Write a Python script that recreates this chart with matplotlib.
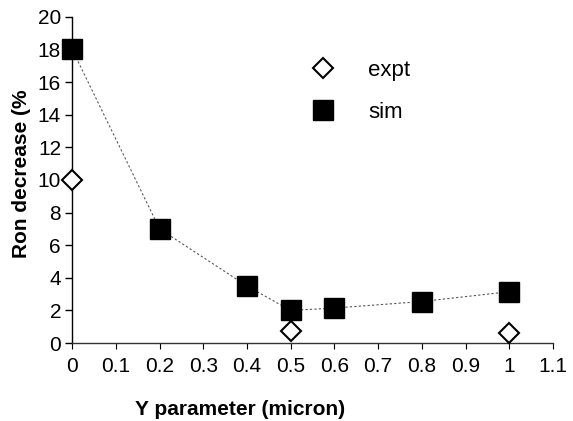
import numpy as np
import matplotlib.pyplot as plt

plt.rcParams.update({
    'font.family': ['Liberation Sans', 'DejaVu Sans'],
    'font.size': 12,
})

sim_x = [0, 0.2, 0.4, 0.5, 0.6, 0.8, 1.0]
sim_y = [18, 7, 3.5, 2.0, 2.15, 2.55, 3.15]
expt_x = [0, 0.5, 1.0]
expt_y = [10, 0.72, 0.65]
xticks = [0, 0.1, 0.2, 0.3, 0.4, 0.5, 0.6, 0.7, 0.8, 0.9, 1, 1.1]
xticklabels = ['0', '0.1', '0.2', '0.3', '0.4', '0.5', '0.6', '0.7', '0.8', '0.9', '1', '1.1']
yticks = [0, 2, 4, 6, 8, 10, 12, 14, 16, 18, 20]

fig = plt.figure(figsize=(5.73, 4.21), dpi=100)
ax = fig.add_axes([0.126, 0.185, 0.839, 0.775])

ax.plot(sim_x, sim_y, color='#555555', lw=0.8, ls=(0, (2, 2)), zorder=1, clip_on=False)
ax.plot(sim_x, sim_y, 's', ms=14, mfc='black', mec='black', ls='none', label='sim',
        zorder=3, clip_on=False)
ax.plot(expt_x, expt_y, 'D', ms=10, mfc='white', mec='black', mew=1.5, ls='none',
        label='expt', zorder=3, clip_on=False)

ax.set_xlim(0, 1.1)
ax.set_ylim(0, 20)
ax.set_xticks(xticks)
ax.set_xticklabels(xticklabels, fontsize=15)
ax.set_yticks(yticks)
ax.set_yticklabels([str(v) for v in yticks], fontsize=15)
ax.tick_params(axis='y', direction='out', length=5, width=1, pad=3)
ax.tick_params(axis='x', direction='out', length=4, width=0.8, pad=6)

for side in ['top', 'right']:
    ax.spines[side].set_visible(False)
ax.spines['left'].set_linewidth(1.0)
ax.spines['bottom'].set_linewidth(1.0)
ax.spines['bottom'].set_color('#333333')

ax.set_xlabel('Y parameter (micron)', fontsize=15, fontweight='bold')
ax.xaxis.set_label_coords(0.35, -0.175)
ax.set_ylabel('Ron decrease (%', fontsize=15, fontweight='bold')
ax.yaxis.set_label_coords(-0.085, 0.52)

h, l = ax.get_legend_handles_labels()
leg = ax.legend([h[1], h[0]], [l[1], l[0]], loc='upper left', bbox_to_anchor=(0.445, 0.93),
                frameon=False, fontsize=16, handletextpad=1.3, labelspacing=0.95,
                handlelength=1.5)

fig.savefig('out.png', dpi=100)
